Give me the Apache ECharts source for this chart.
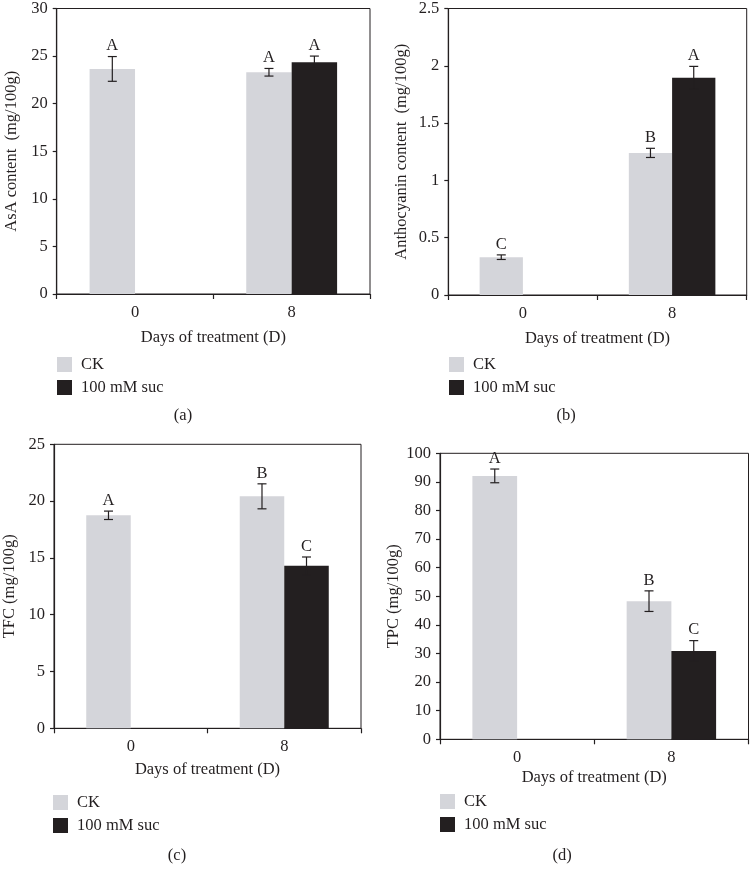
<!DOCTYPE html>
<html>
<head>
<meta charset="utf-8">
<script src="https://cdn.jsdelivr.net/npm/echarts@6/dist/echarts.min.js"></script>
<style>
  html, body { margin: 0; padding: 0; background: #fff; }
  #main { width: 750px; height: 878px; }
</style>
</head>
<body>
<div id="main"></div>
<script>
// categories on the x axis (days of treatment)
const days = ['0', '8']
const seriesNames = ['CK', '100 mM suc']

// (a) AsA
const asaCK = [23.65, 23.3]
const asaCKErr = [1.3, 0.4]
const asaCKLetter = ['A', 'A']
const asaSuc = [null, 24.35]
const asaSucErr = [null, 0.65]
const asaSucLetter = [null, 'A']

// (b) Anthocyanin
const antCK = [0.33, 1.24]
const antCKErr = [0.02, 0.04]
const antCKLetter = ['C', 'B']
const antSuc = [null, 1.895]
const antSucErr = [null, 0.1]
const antSucLetter = [null, 'A']

// (c) TFC
const tfcCK = [18.75, 20.42]
const tfcCKErr = [0.37, 1.1]
const tfcCKLetter = ['A', 'B']
const tfcSuc = [null, 14.3]
const tfcSucErr = [null, 0.78]
const tfcSucLetter = [null, 'C']

// (d) TPC
const tpcCK = [92.1, 48.3]
const tpcCKErr = [2.4, 3.6]
const tpcCKLetter = ['A', 'B']
const tpcSuc = [null, 30.9]
const tpcSucErr = [null, 3.6]
const tpcSucLetter = [null, 'C']

const FONT = 'Liberation Serif'
const INK = '#231f20'
const GREY = '#d4d5da'
const GAP = 0.42

const panels = [
  { tag: '(a)', yName: 'AsA content  (mg/100g)', max: 30, step: 5,
    grid: { left: 56.7, top: 6, width: 313.3, height: 288 }, nameGapY: 37, nameGapX: 35,
    ck: asaCK, ckErr: asaCKErr, ckLetter: asaCKLetter, suc: asaSuc, sucErr: asaSucErr, sucLetter: asaSucLetter,
    legend: { left: 57, top: 356 }, title: { left: 183, top: 407 } },
  { tag: '(b)', yName: 'Anthocyanin content  (mg/100g)', max: 2.5, step: 0.5,
    grid: { left: 448.3, top: 7.3, width: 298.4, height: 287.7 }, nameGapY: 38, nameGapX: 35,
    ck: antCK, ckErr: antCKErr, ckLetter: antCKLetter, suc: antSuc, sucErr: antSucErr, sucLetter: antSucLetter,
    legend: { left: 449, top: 356 }, title: { left: 566, top: 407 } },
  { tag: '(c)', yName: 'TFC (mg/100g)', max: 25, step: 5,
    grid: { left: 54, top: 444.3, width: 307, height: 284 }, nameGapY: 36, nameGapX: 33,
    ck: tfcCK, ckErr: tfcCKErr, ckLetter: tfcCKLetter, suc: tfcSuc, sucErr: tfcSucErr, sucLetter: tfcSucLetter,
    legend: { left: 53, top: 794 }, title: { left: 177, top: 847 } },
  { tag: '(d)', yName: 'TPC (mg/100g)', max: 100, step: 10,
    grid: { left: 440, top: 453.3, width: 308.5, height: 286 }, nameGapY: 38, nameGapX: 30,
    ck: tpcCK, ckErr: tpcCKErr, ckLetter: tpcCKLetter, suc: tpcSuc, sucErr: tpcSucErr, sucLetter: tpcSucLetter,
    legend: { left: 440, top: 793 }, title: { left: 562, top: 847 } }
]

function errorSeries(idx, values, errs, letters, side) {
  const data = []
  values.forEach((v, i) => {
    if (v != null) data.push([i, v, errs[i], letters[i]])
  })
  return {
    type: 'custom',
    name: 'err' + idx + side,
    xAxisIndex: idx,
    yAxisIndex: idx,
    z: 5,
    silent: true,
    encode: { x: 0, y: 1 },
    data: data,
    renderItem: function (params, api) {
      const x = api.value(0)
      const v = api.value(1)
      const e = api.value(2)
      const band = api.size([1, 0])[0]
      const barW = band * (1 - GAP) / 2
      const base = api.coord([x, v])
      const cx = base[0] + side * barW / 2
      const yTop = api.coord([x, v + e])[1]
      const yBot = api.coord([x, v - e])[1]
      const letter = data[params.dataIndex][3]
      const st = { stroke: INK, lineWidth: 1.2 }
      return {
        type: 'group',
        children: [
          { type: 'line', shape: { x1: cx, y1: yTop, x2: cx, y2: yBot }, style: st },
          { type: 'line', shape: { x1: cx - 4.5, y1: yTop, x2: cx + 4.5, y2: yTop }, style: st },
          { type: 'line', shape: { x1: cx - 4.5, y1: yBot, x2: cx + 4.5, y2: yBot }, style: st },
          { type: 'text', style: { text: letter, x: cx, y: yTop - 2, align: 'center', verticalAlign: 'bottom',
            font: '16.5px "' + FONT + '"', fill: INK } }
        ]
      }
    }
  }
}

const grid = [], xAxis = [], yAxis = [], series = [], legend = [], title = []

panels.forEach((p, i) => {
  grid.push(Object.assign({ show: true, borderColor: INK, borderWidth: 1, backgroundColor: 'transparent' }, p.grid))
  xAxis.push({
    type: 'category', gridIndex: i, data: days,
    name: 'Days of treatment (D)', nameLocation: 'middle', nameGap: p.nameGapX,
    nameTextStyle: { fontFamily: FONT, fontSize: 16.5, color: INK },
    axisLine: { lineStyle: { color: INK, width: 1.2 } },
    axisTick: { show: true, length: 5, lineStyle: { color: INK, width: 1.2 } },
    axisLabel: { fontFamily: FONT, fontSize: 16.5, color: INK, margin: 10 },
    splitLine: { show: false }
  })
  yAxis.push({
    type: 'value', gridIndex: i, min: 0, max: p.max, interval: p.step,
    name: p.yName, nameLocation: 'middle', nameGap: p.nameGapY,
    nameTextStyle: { fontFamily: FONT, fontSize: 16.5, color: INK },
    axisLine: { show: true, lineStyle: { color: INK, width: 1.2 } },
    axisTick: { show: true, length: 4, lineStyle: { color: INK, width: 1.2 } },
    axisLabel: { fontFamily: FONT, fontSize: 16.5, color: INK, margin: 9 },
    splitLine: { show: false }
  })
  series.push({
    type: 'bar', name: seriesNames[0], xAxisIndex: i, yAxisIndex: i,
    data: p.ck, itemStyle: { color: GREY },
    barGap: '0%', barCategoryGap: (GAP * 100) + '%'
  })
  series.push({
    type: 'bar', name: seriesNames[1], xAxisIndex: i, yAxisIndex: i,
    data: p.suc, itemStyle: { color: INK },
    barGap: '0%', barCategoryGap: (GAP * 100) + '%'
  })
  series.push(errorSeries(i, p.ck, p.ckErr, p.ckLetter, -1))
  series.push(errorSeries(i, p.suc, p.sucErr, p.sucLetter, 1))
  legend.push({
    left: p.legend.left, top: p.legend.top, orient: 'vertical', padding: 0,
    data: seriesNames.map(n => ({ name: n, icon: 'rect' })),
    itemWidth: 15, itemHeight: 15, itemGap: 6, selectedMode: false,
    textStyle: { fontFamily: FONT, fontSize: 16.5, color: INK, padding: [0, 0, 0, 4] }
  })
  title.push({
    text: p.tag, left: p.title.left, top: p.title.top, textAlign: 'center', padding: 0,
    textStyle: { fontFamily: FONT, fontSize: 16.5, fontWeight: 'normal', color: INK }
  })
})

const chart = echarts.init(document.getElementById('main'), null, { renderer: 'canvas' })
chart.setOption({
  animation: false,
  backgroundColor: '#fff',
  title: title,
  legend: legend,
  grid: grid,
  xAxis: xAxis,
  yAxis: yAxis,
  series: series
})
</script>
</body>
</html>
